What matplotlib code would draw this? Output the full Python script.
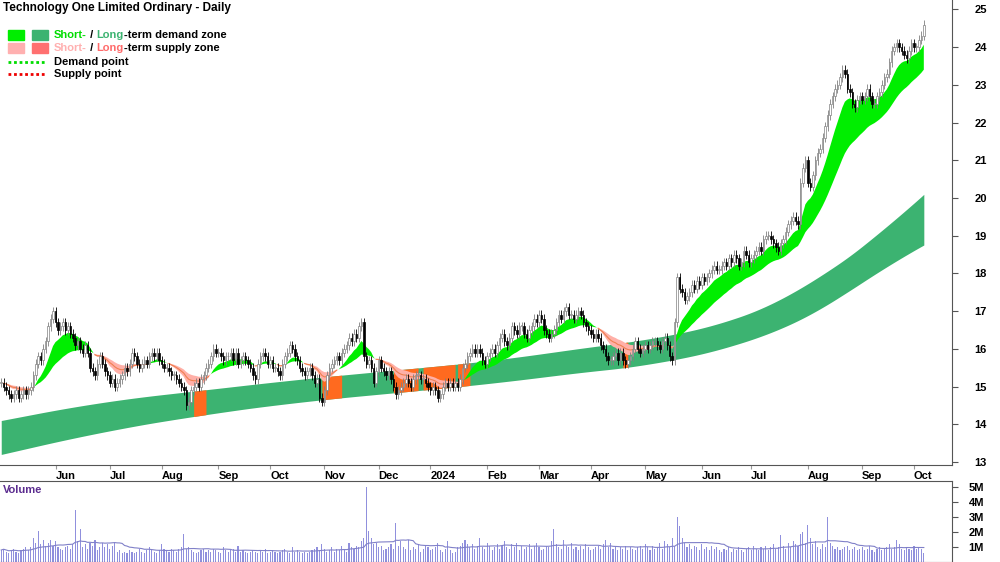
import numpy as np
import pandas as pd
import matplotlib
matplotlib.use("Agg")
import matplotlib.pyplot as plt
from matplotlib.patches import Rectangle
from matplotlib.lines import Line2D

plt.rcParams['font.family'] = ['Liberation Sans', 'DejaVu Sans']

title = "Technology One Limited Ordinary - Daily"
start_date = "2023-05-02"

closes = [
15.1,15.0,14.9,14.8,14.7,14.8,14.9,14.7,14.8,14.9,14.8,14.9,15.0,15.3,15.6,15.8,15.7,16.0,16.2,16.6,16.8,17.0,
16.7,16.5,16.6,16.7,16.5,16.6,16.4,16.3,16.1,16.2,16.0,15.9,16.1,15.9,15.5,15.4,15.3,15.6,15.8,
15.6,15.4,15.3,15.1,15.2,15.0,15.1,15.2,15.3,15.5,15.4,15.6,15.9,15.8,15.6,15.5,15.6,15.7,15.6,15.8,15.9,15.8,
15.9,15.7,15.6,15.5,15.5,15.4,15.3,15.3,15.2,15.1,15.0,14.9,14.5,14.6,14.9,15.0,15.1,15.0,
15.2,15.3,15.5,15.6,15.8,16.0,15.9,15.9,15.8,15.7,15.8,15.8,15.9,15.7,15.9,15.6,15.7,15.8,15.7,15.6,
15.5,15.3,15.2,15.6,15.8,15.9,15.8,15.6,15.7,15.5,15.5,15.4,15.3,15.6,15.8,15.9,16.1,16.0,15.8,15.7,
15.5,15.4,15.3,15.4,15.5,15.3,15.1,15.2,14.7,14.6,14.9,15.3,15.5,15.6,15.7,15.8,15.7,15.9,16.0,16.1,
16.3,16.2,16.4,16.3,16.6,16.7,15.8,15.6,15.7,15.5,
15.1,15.4,15.7,15.5,15.4,15.3,15.4,15.2,15.0,14.8,14.9,15.0,15.1,15.2,15.1,15.0,15.2,15.3,15.3,15.2,
15.2,15.1,15.0,14.9,15.0,14.9,14.7,14.8,15.0,15.1,15.0,15.1,15.0,15.1,15.0,15.2,15.5,15.6,15.8,15.9,
16.0,15.9,16.0,15.9,15.7,15.6,15.8,15.9,16.0,15.9,16.1,16.3,16.4,16.2,16.1,16.3,16.6,16.5,16.4,16.6,
16.6,16.4,16.3,16.5,16.6,16.8,16.7,16.9,16.8,16.5,16.4,16.3,16.4,16.5,16.7,16.9,16.8,17.0,17.1,16.9,
16.9,16.8,16.9,17.0,16.9,16.7,16.6,16.5,16.4,16.3,16.4,16.3,16.1,16.0,15.8,15.7,15.7,15.8,15.9,15.7,
15.9,15.7,15.6,15.7,15.8,16.0,16.2,16.0,15.9,16.0,16.1,16.0,16.1,16.2,16.2,16.1,16.0,16.2,16.3,16.1,15.8,15.7,
16.7,17.9,17.6,17.5,17.3,17.4,17.5,17.7,17.6,17.8,17.7,17.9,17.8,17.9,18.0,18.1,18.2,18.1,
18.1,18.2,18.3,18.2,18.4,18.3,18.5,18.4,18.2,18.3,18.6,18.5,18.3,18.4,18.5,18.6,18.7,18.6,18.9,19.0,
19.0,18.9,18.8,18.7,18.6,18.8,18.9,19.1,19.3,19.4,19.5,19.4,19.3,
20.4,20.8,21.0,20.4,20.3,20.6,21.0,21.2,21.3,21.6,21.9,22.2,22.5,22.7,22.9,23.0,23.2,
23.4,23.3,22.9,22.8,22.5,22.4,22.6,22.7,22.6,22.7,22.9,22.7,22.5,22.5,22.7,22.8,23.0,23.2,23.3,23.6,
23.9,24.0,24.1,24.0,23.9,23.8,23.7,23.9,24.1,24.0,24.0,24.2,24.3,24.6]

volume_m = [
0.8,0.9,0.7,0.6,0.8,0.9,0.7,0.6,0.8,0.9,1.0,0.8,1.0,1.6,1.3,2.1,1.2,1.5,1.1,1.3,1.5,1.1,1.4,1.0,0.9,
0.8,1.0,1.1,0.9,1.2,3.5,1.4,2.2,1.0,1.2,0.9,1.3,1.1,1.5,0.8,1.0,1.3,1.0,1.2,0.9,1.1,1.3,0.7,0.8,0.6,
0.7,0.6,0.8,0.7,0.6,0.7,0.9,0.7,0.6,0.8,1.0,0.9,0.7,0.6,0.8,1.2,0.9,0.8,0.7,0.9,0.8,0.7,0.9,1.0,1.9,
0.9,1.0,0.8,0.7,0.6,0.7,0.8,0.9,0.7,0.8,0.7,0.9,0.8,0.7,0.6,1.0,0.8,0.7,0.8,0.9,0.7,1.1,0.7,0.8,0.7,
0.6,0.7,0.8,0.7,0.6,0.8,0.7,0.9,0.6,0.7,0.8,0.7,0.6,0.7,0.8,0.9,0.7,0.6,1.0,0.7,0.8,0.7,0.6,0.7,0.6,
0.7,0.8,0.9,1.0,0.8,1.2,0.9,0.7,0.8,1.0,0.7,0.9,0.8,1.1,0.9,0.7,1.3,1.0,0.9,1.1,1.0,1.4,1.6,5.0,2.1,
1.6,1.2,1.3,1.0,1.1,0.8,0.9,1.0,1.2,0.9,2.6,1.1,1.4,1.0,0.9,1.5,0.8,1.0,0.9,1.2,0.7,0.9,1.1,1.0,0.8,
0.9,1.0,1.3,0.8,0.7,0.9,1.4,0.8,0.6,0.7,1.0,1.1,1.3,1.5,1.2,1.0,1.2,0.9,1.1,1.6,1.0,0.9,1.3,1.1,0.8,
1.0,1.2,0.9,1.1,1.4,1.0,0.9,1.2,1.0,1.3,0.8,1.1,0.9,1.0,1.2,0.9,1.1,1.3,1.0,0.8,0.9,1.1,1.0,1.4,2.2,
1.2,1.0,0.9,1.5,1.1,1.0,1.3,0.9,1.0,0.8,1.1,0.9,1.2,1.0,0.8,0.9,1.0,1.1,0.9,1.2,1.5,1.0,1.3,0.9,1.0,
0.8,1.0,0.9,1.1,0.8,1.0,0.9,0.8,1.0,1.1,0.9,1.2,1.0,0.8,1.1,0.9,1.0,1.3,0.9,1.4,1.2,1.0,1.6,1.1,3.0,
2.4,1.6,1.3,1.0,1.2,0.9,1.1,1.0,0.8,1.2,0.9,1.0,0.8,1.1,0.9,1.0,0.8,0.7,0.9,0.8,1.0,0.7,0.9,0.8,1.0,
0.8,0.7,0.9,1.0,0.8,1.1,0.9,0.8,1.0,0.9,1.1,0.8,1.0,1.2,0.9,1.0,1.8,1.1,0.9,1.3,1.0,1.4,1.2,1.1,1.9,
2.0,1.3,2.5,1.6,1.2,1.4,1.0,0.9,1.2,1.0,3.0,1.3,1.1,0.9,1.0,0.8,0.9,1.0,1.1,0.8,0.9,1.0,0.8,0.9,1.0,
0.8,0.9,1.1,0.8,0.7,0.9,1.0,0.8,0.9,1.0,1.2,0.9,1.0,1.5,1.2,0.9,0.8,1.0,0.9,0.8,1.1,0.9,1.0,0.9,0.6]

# long-term demand zone anchors (bar index, lower, upper)
long_idx   = [0, 40, 81, 121, 162, 202, 243, 271, 283, 304, 324, 344, 364, 374]
long_lower = [13.2, 13.8, 14.25, 14.6, 14.85, 15.1, 15.45, 15.6, 15.85, 16.2, 16.65, 17.5, 18.5, 18.8]
long_upper = [14.1, 14.6, 14.9, 15.2, 15.45, 15.7, 16.1, 16.3, 16.5, 16.9, 17.45, 18.5, 19.4, 20.05]

# supply/demand overlap (orange) zones, bar index ranges
orange_zones = [(78, 83), (130, 138), (159, 169), (171, 184), (185, 190), (252, 254)]

n = len(closes)
c = np.array(closes)
o = np.r_[c[0], c[:-1]]
hi = np.maximum(o, c) + 0.12
lo = np.minimum(o, c) - 0.12
x = np.arange(n)
dates = pd.bdate_range(start_date, periods=n)

fast = pd.Series(c).ewm(span=11, adjust=False).mean().values
slow = pd.Series(c).ewm(span=30, adjust=False).mean().values

def smooth_curve(vals, w=25):
    base = np.interp(x, long_idx, vals)
    s0 = base[1] - base[0]
    s1 = base[-1] - base[-2]
    pad_l = base[0] - s0 * np.arange(w, 0, -1)
    pad_r = base[-1] + s1 * np.arange(1, w + 1)
    full = np.r_[pad_l, base, pad_r]
    k = np.ones(2 * w + 1) / (2 * w + 1)
    return np.convolve(full, k, mode='same')[w:-w]

ll = smooth_curve(long_lower)
lu = smooth_curve(long_upper)

fig = plt.figure(figsize=(10, 5.62), dpi=100)
ax = fig.add_axes([0, 1 - 465/562, 0.952, 465/562])
axv = fig.add_axes([0, 0, 0.952, 81/562])

ax.fill_between(x, ll, lu, color='#3cb371', lw=0, zorder=1)
for a, b in orange_zones:
    ax.fill_between(x[a:b+1], ll[a:b+1], lu[a:b+1], color='#ff6a1f', lw=0, zorder=2)
bull = fast >= slow
ax.fill_between(x, fast, slow, where=bull, color='#00ee00', lw=0, zorder=3, interpolate=True)
ax.fill_between(x, fast, slow, where=~bull, color='#ffb0a8', lw=0, zorder=3, interpolate=True)
ax.plot(np.where(~bull, (fast + slow) / 2, np.nan), color='#f08050', lw=0.8, zorder=3)

up = c >= o
ax.vlines(x[up], lo[up], hi[up], color='#808080', lw=0.6, zorder=4)
ax.vlines(x[~up], lo[~up], hi[~up], color='black', lw=0.6, zorder=4)
body = np.maximum(np.abs(c - o), 0.02)
ax.bar(x[up], body[up], bottom=np.minimum(o, c)[up], width=0.6, color='white', edgecolor='#808080', lw=0.5, zorder=5)
ax.bar(x[~up], body[~up], bottom=np.minimum(o, c)[~up], width=0.6, color='black', edgecolor='black', lw=0.5, zorder=5)

xmax = 952 / 2.47
ax.set_xlim(-0.5, xmax)
ax.set_ylim(12.92, 25.25)
axv.set_xlim(-0.5, xmax)
axv.set_ylim(0, 5.4)

months = pd.Series(dates.to_period('M'))
first = np.where(months.values[1:] != months.values[:-1])[0] + 1
labels = ['2024' if dates[i].month == 1 else dates[i].strftime('%b') for i in first]
ax.set_xticks(first)
ax.set_xticklabels(labels, fontsize=8, fontweight='bold', ha='left')
ax.tick_params(axis='x', direction='out', length=3, pad=1, color='#999999')
axv.set_xticks([])

ax.yaxis.tick_right()
ax.set_yticks(range(13, 26))
ax.set_yticklabels([str(v) for v in range(13, 26)], fontsize=8, fontweight='bold')
ax.tick_params(axis='y', direction='out', length=4, pad=12, color='#555555')

vol = np.array(volume_m)
axv.bar(x, vol, width=0.45, color='#9090dd', lw=0)
axv.plot(x, pd.Series(vol).rolling(20, min_periods=1).mean(), color='#8080c8', lw=0.8)
axv.yaxis.tick_right()
axv.set_yticks([1, 2, 3, 4, 5])
axv.set_yticklabels(['1M', '2M', '3M', '4M', '5M'], fontsize=8, fontweight='bold')
axv.tick_params(axis='y', direction='out', length=4, pad=8, color='#555555')

for a_ in (ax, axv):
    for s in ('left', 'top'):
        a_.spines[s].set_visible(False)
    a_.spines['right'].set_color('#555555')
    a_.spines['bottom'].set_color('#555555')
axv.spines['top'].set_visible(True)
axv.spines['top'].set_color('#555555')

def px(xp, yp):
    return xp / 1000, 1 - yp / 562

fig.text(*px(3, 8), title, fontsize=8.5, fontweight='bold', va='center')
fig.text(*px(3, 490), 'Volume', fontsize=8, fontweight='bold', color='#5b2c8f', va='center')

for (x0, y0, col) in [(8, 30, '#00ee00'), (32, 30, '#3cb371'), (8, 43, '#ffb0b0'), (32, 43, '#ff7070')]:
    fig.patches.append(Rectangle(px(x0, y0 + 10), 16/1000, 10/562, color=col, transform=fig.transFigure))

renderer = fig.canvas.get_renderer()

def multitext(xp, yp, parts):
    for s, col in parts:
        t = fig.text(*px(xp, yp), s, fontsize=8, fontweight='bold', color=col, va='center')
        xp += t.get_window_extent(renderer=renderer).width

multitext(54, 35, [('Short-', '#00dd00'), (' / ', 'black'), ('Long', '#3cb371'), ('-term demand zone', 'black')])
multitext(54, 48, [('Short-', '#ffb0b0'), (' / ', 'black'), ('Long', '#ff6b6b'), ('-term supply zone', 'black')])
fig.lines.append(Line2D([8/1000, 46/1000], [1-62/562]*2, color='#00dd00', lw=2, ls=(0, (1, 1)), transform=fig.transFigure))
fig.lines.append(Line2D([8/1000, 46/1000], [1-74/562]*2, color='#ee0000', lw=2, ls=(0, (1, 1)), transform=fig.transFigure))
fig.text(*px(54, 62), 'Demand point', fontsize=8, fontweight='bold', va='center')
fig.text(*px(54, 74), 'Supply point', fontsize=8, fontweight='bold', va='center')

fig.savefig('out.png', dpi=100)
